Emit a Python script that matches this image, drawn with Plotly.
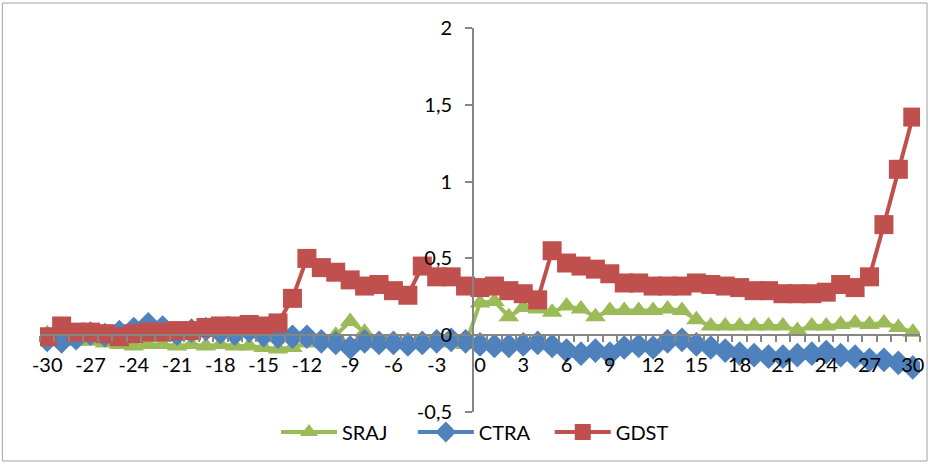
import plotly.graph_objects as go

days = list(range(-30, 31))

sraj = [0.01, -0.02, -0.04, -0.04, -0.05, -0.06, -0.07, -0.06, -0.06, -0.07,
        -0.06, -0.07, -0.06, -0.07, -0.07, -0.08, -0.09, -0.08, -0.05, -0.03,
        0.0, 0.09, 0.02, -0.05, -0.05, -0.04, -0.05, -0.03, -0.05, -0.06,
        0.21, 0.22, 0.12, 0.18, 0.17, 0.15, 0.19, 0.17, 0.12, 0.16,
        0.16, 0.16, 0.16, 0.17, 0.16, 0.10, 0.06, 0.06, 0.06, 0.06,
        0.06, 0.06, 0.03, 0.06, 0.06, 0.07, 0.08, 0.07, 0.08, 0.05, 0.02]

ctra = [-0.03, -0.04, -0.02, 0.01, 0.0, 0.02, 0.04, 0.07, 0.05, 0.01,
        0.03, 0.04, 0.02, 0.01, 0.03, 0.0, -0.01, -0.01, -0.01, -0.04,
        -0.05, -0.08, -0.04, -0.05, -0.05, -0.06, -0.05, -0.04, -0.03, -0.04,
        -0.06, -0.07, -0.07, -0.06, -0.05, -0.07, -0.10, -0.12, -0.10, -0.12,
        -0.08, -0.07, -0.08, -0.04, -0.03, -0.06, -0.08, -0.10, -0.12, -0.13,
        -0.14, -0.14, -0.13, -0.12, -0.11, -0.13, -0.14, -0.16, -0.16, -0.18, -0.21]

gdst = [-0.01, 0.06, 0.02, 0.02, 0.01, -0.01, 0.01, 0.02, 0.02, 0.03,
        0.03, 0.05, 0.06, 0.06, 0.07, 0.06, 0.08, 0.24, 0.50, 0.44,
        0.41, 0.36, 0.32, 0.33, 0.29, 0.26, 0.45, 0.38, 0.38, 0.32,
        0.31, 0.32, 0.29, 0.27, 0.23, 0.55, 0.47, 0.45, 0.43, 0.40,
        0.34, 0.34, 0.32, 0.32, 0.32, 0.34, 0.33, 0.32, 0.31, 0.29,
        0.29, 0.27, 0.27, 0.27, 0.28, 0.33, 0.31, 0.38, 0.72, 1.08, 1.42]

series_names = ["SRAJ", "CTRA", "GDST"]

x_tickvals = list(range(-30, 31, 3))
x_ticktext = [str(v) for v in x_tickvals]
y_tickvals = [-0.5, 0, 0.5, 1, 1.5, 2]
y_ticktext = ["-0,5", "0", "0,5", "1", "1,5", "2"]

FONT = "Lato"
GREEN = "#9BBB59"
BLUE = "#4F81BD"
RED = "#C0504D"
AXIS = "#868686"
NB = "\u00a0"

# layout geometry (pixels)
W, H = 930, 464
M_T, M_B = 28, 10
PLOT_BOTTOM = 412
paper_h = H - M_T - M_B
dom0 = (H - M_B - PLOT_BOTTOM) / paper_h
xpos = dom0 + 0.2 * (1 - dom0)

fig = go.Figure()
fig.add_trace(go.Scatter(x=days, y=sraj, name=series_names[0] + NB * 4, mode="lines+markers",
                         line=dict(color=GREEN, width=4),
                         marker=dict(symbol="triangle-up", size=18, color=GREEN)))
fig.add_trace(go.Scatter(x=days, y=ctra, name=series_names[1] + NB * 3, mode="lines+markers",
                         line=dict(color=BLUE, width=4),
                         marker=dict(symbol="diamond", size=19, color=BLUE)))
fig.add_trace(go.Scatter(x=days, y=gdst, name=series_names[2], mode="lines+markers",
                         line=dict(color=RED, width=4),
                         marker=dict(symbol="square", size=19, color=RED)))

fig.update_layout(
    width=W, height=H,
    margin=dict(l=40, r=10, t=M_T, b=M_B, autoexpand=False),
    paper_bgcolor="white", plot_bgcolor="white",
    font=dict(family=FONT, size=20, color="black"),
    showlegend=True,
    legend=dict(orientation="h", x=0.4943, xanchor="center",
                y=(H - M_B - 432) / paper_h, yanchor="middle",
                font=dict(family=FONT, size=20), itemwidth=56,
                bgcolor="rgba(0,0,0,0)", traceorder="normal"),
    xaxis=dict(range=[-30.5, 30.5], tickmode="array", tickvals=x_tickvals,
               ticktext=x_ticktext, showgrid=False, zeroline=False,
               showline=True, linecolor=AXIS, linewidth=1.5,
               anchor="free", position=xpos, ticks="", ticklabelstandoff=12,
               minor=dict(tickmode="linear", tick0=-0.5, dtick=1, ticks="outside",
                          ticklen=6, tickcolor=AXIS, tickwidth=1.5, showgrid=False),
               tickfont=dict(family=FONT, size=20)),
    yaxis=dict(range=[-0.5, 2], domain=[dom0, 1], tickmode="array", tickvals=y_tickvals,
               ticktext=y_ticktext, showgrid=False, zeroline=False,
               showline=True, linecolor=AXIS, linewidth=1.5,
               anchor="free", position=30 / 61, ticks="outside", ticklen=7,
               tickcolor=AXIS, tickwidth=1.5, ticklabelstandoff=9,
               tickfont=dict(family=FONT, size=20)),
    shapes=[dict(type="rect", xref="paper", yref="paper",
                 x0=-0.0428, x1=1.008, y0=(H - M_B - 461) / paper_h,
                 y1=(H - M_B - 3) / paper_h,
                 line=dict(color="#A0A0A0", width=1), layer="below")],
)

fig.write_html("out.html")
